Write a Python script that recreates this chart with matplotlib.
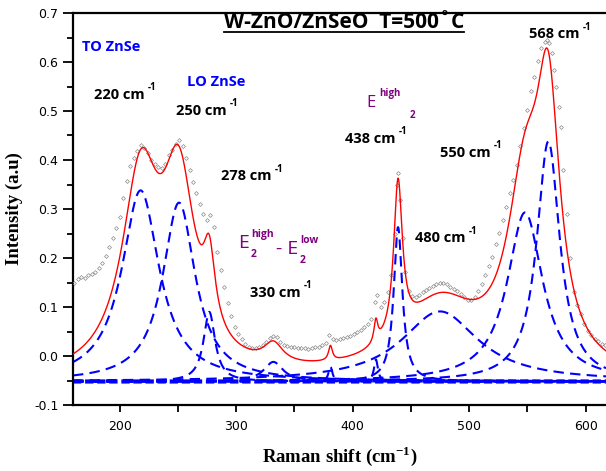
import numpy as np
import matplotlib
matplotlib.use("Agg")
import matplotlib.pyplot as plt
from matplotlib.lines import Line2D
from matplotlib.ticker import MultipleLocator

# measured spectrum (gray points), Raman shift in cm^-1
shift = [161, 164, 167, 170, 173, 176, 179, 182, 185, 188, 191, 194, 197, 200,
         203, 206, 209, 212, 215, 218, 221, 224, 227, 230, 233, 236, 239, 242,
         245, 248, 251, 254, 257, 260, 263, 266, 269, 272, 275, 278, 281, 284,
         287, 290, 293, 296, 299, 302, 305, 308, 311, 314, 317, 320, 323, 326,
         329, 332, 335, 338, 341, 344, 347, 350, 353, 356, 359, 362, 365, 368,
         371, 374, 377, 380, 383, 386, 389, 392, 395, 398, 401, 404, 407, 410,
         413, 416, 419, 421, 424, 427, 430, 433, 436, 438, 439, 441, 443, 445,
         448, 451, 454, 457, 460, 463, 466, 469, 472, 475, 478, 481, 484, 487,
         490, 493, 496, 499, 502, 505, 508, 511, 514, 517, 520, 523, 526, 529,
         532, 535, 538, 541, 544, 547, 550, 553, 556, 559, 562, 565, 567, 569,
         571, 573, 575, 577, 579, 581, 584, 587, 590, 593, 596, 599, 602, 605,
         608, 611, 614, 617]
intensity = [0.150, 0.158, 0.162, 0.160, 0.165, 0.168, 0.172, 0.180, 0.190,
             0.205, 0.222, 0.240, 0.262, 0.284, 0.322, 0.358, 0.388, 0.405,
             0.418, 0.430, 0.424, 0.415, 0.400, 0.392, 0.386, 0.384, 0.392,
             0.410, 0.420, 0.432, 0.440, 0.428, 0.405, 0.380, 0.355, 0.332,
             0.310, 0.290, 0.278, 0.288, 0.264, 0.212, 0.175, 0.140, 0.108,
             0.082, 0.060, 0.045, 0.034, 0.024, 0.018, 0.016, 0.016, 0.018,
             0.022, 0.028, 0.036, 0.040, 0.038, 0.028, 0.022, 0.020, 0.018,
             0.018, 0.017, 0.016, 0.016, 0.015, 0.016, 0.018, 0.019, 0.022,
             0.027, 0.042, 0.034, 0.033, 0.035, 0.037, 0.039, 0.041, 0.044,
             0.048, 0.053, 0.060, 0.066, 0.076, 0.110, 0.125, 0.100, 0.110,
             0.130, 0.165, 0.250, 0.350, 0.374, 0.318, 0.240, 0.172, 0.132,
             0.122, 0.120, 0.125, 0.131, 0.135, 0.139, 0.142, 0.146, 0.148,
             0.149, 0.146, 0.141, 0.136, 0.132, 0.127, 0.120, 0.115, 0.114,
             0.120, 0.132, 0.146, 0.165, 0.184, 0.203, 0.228, 0.252, 0.278,
             0.305, 0.332, 0.360, 0.390, 0.428, 0.465, 0.502, 0.540, 0.570,
             0.603, 0.628, 0.640, 0.645, 0.638, 0.618, 0.584, 0.550, 0.509,
             0.468, 0.380, 0.290, 0.200, 0.130, 0.105, 0.085, 0.066, 0.052,
             0.042, 0.035, 0.030, 0.025, 0.022]

# Lorentzian fit components
peak_center = [218, 251, 277, 332, 381, 420, 439, 475, 548, 568]
peak_height = [0.39, 0.365, 0.142, 0.04, 0.03, 0.045, 0.315, 0.143, 0.345, 0.49]
peak_hwhm = [19.5, 17, 6, 10, 2, 2, 4.5, 40, 18.5, 12]
baseline = -0.052


def lorentz(x, c, h, w):
    return h / (1 + ((x - c) / w) ** 2)


plt.rcParams['font.family'] = 'DejaVu Sans'
plt.rcParams['mathtext.fontset'] = 'custom'
plt.rcParams['mathtext.rm'] = 'Liberation Serif:bold'
plt.rcParams['mathtext.bf'] = 'Liberation Serif:bold'
fig = plt.figure(figsize=(6.06, 4.71), dpi=100)
ax = fig.add_axes([73 / 606, 1 - 405 / 471, 1 - 73 / 606, (405 - 13) / 471])

xs = np.linspace(160, 618, 2000)
total = np.full_like(xs, baseline)
for c, h, w in zip(peak_center, peak_height, peak_hwhm):
    comp = lorentz(xs, c, h, w)
    total += comp
    ax.plot(xs, baseline + comp, color='#0000ff', lw=1.5,
            linestyle=(0, (5, 3)), zorder=2)
ax.plot(xs, np.full_like(xs, baseline), color='#0000ff', lw=3,
        linestyle=(0, (2, 0.9)), zorder=2)

ax.plot(shift, intensity, linestyle='none', marker='D', markersize=2.0,
        mfc='none', mec='#8a8a8a', mew=0.5, zorder=3)
ax.plot(xs, total, color='#ff0000', lw=1.0, zorder=4)

ax.set_xlim(160, 617.5)
ax.set_ylim(-0.1, 0.7)
ax.xaxis.set_major_locator(MultipleLocator(100))
ax.xaxis.set_minor_locator(MultipleLocator(50))
ax.yaxis.set_major_locator(MultipleLocator(0.1))
ax.yaxis.set_minor_locator(MultipleLocator(0.05))
ax.yaxis.set_major_formatter(plt.FuncFormatter(lambda v, p: f"{v:.1f}"))
ax.tick_params(which='both', direction='out', width=1.3, labelsize=9,
               colors='black', top=False, right=False)
ax.tick_params(axis='y', which='major', length=7)
ax.tick_params(axis='y', which='minor', length=4)
ax.tick_params(axis='x', which='both', length=5, pad=6)
for s in ['left', 'bottom', 'top']:
    ax.spines[s].set_linewidth(1.6)
ax.spines['right'].set_visible(False)

ax.set_xlabel('Raman shift (cm$^{-1}$)', family='Liberation Serif',
              fontweight='bold', fontsize=13.5, labelpad=8)
ax.set_ylabel('Intensity (a.u)', family='Liberation Serif', fontweight='bold',
              fontsize=13.5, labelpad=8)

LF = 'Open Sans'


def px(x, y):
    # pixel position in the image -> data coordinates
    return 200 + (x - 119.5) / 1.166, (356 - y) / 490


def peak_label(x, y, main, color='black', sup='-1'):
    t = ax.text(*px(x, y), main, color=color, fontsize=10.5, fontweight='bold',
                family=LF, ha='left', va='baseline', zorder=6)
    if sup:
        ax.annotate(sup, xy=(1, 1), xycoords=t, xytext=(2.5, 0),
                    textcoords='offset points', fontsize=7, fontweight='bold',
                    family=LF, color=color, va='center', ha='left')
    return t


peak_label(82, 51, 'TO ZnSe', color='#0000ff', sup=None)
peak_label(94, 99, '220 cm')
peak_label(187, 86, 'LO ZnSe', color='#0000ff', sup=None)
peak_label(176, 115, '250 cm')
peak_label(221, 180, '278 cm')
peak_label(250, 297, '330 cm')
peak_label(345, 143, '438 cm')
peak_label(415, 242, '480 cm')
peak_label(440, 157, '550 cm')
peak_label(529, 38, '568 cm')

purple = '#800080'


def e_label(x, y, sub, sup, prefix=''):
    t = ax.text(*px(x, y), prefix + 'E', color=purple, fontsize=14,
                family=LF, ha='left', va='baseline', zorder=6)
    ax.annotate(sub, xy=(1, 0), xycoords=t, xytext=(1, -2),
                textcoords='offset points', fontsize=7.5, fontweight='bold',
                family=LF, color=purple, va='center', ha='left')
    s = ax.annotate(sup, xy=(1, 1), xycoords=t, xytext=(2, 0),
                    textcoords='offset points', fontsize=7.5, fontweight='bold',
                    family=LF, color=purple, va='center', ha='left')
    return s


first = e_label(238, 248, '2', 'high')
t2 = ax.annotate('- E', xy=(1, 0), xycoords=first, xytext=(1, -10.5),
                 textcoords='offset points', fontsize=14, family=LF,
                 color=purple, va='baseline', ha='left')
ax.annotate('2', xy=(1, 0), xycoords=t2, xytext=(1, -2),
            textcoords='offset points', fontsize=7.5, fontweight='bold',
            family=LF, color=purple, va='center', ha='left')
ax.annotate('low', xy=(1, 1), xycoords=t2, xytext=(2, 0),
            textcoords='offset points', fontsize=7.5, fontweight='bold',
            family=LF, color=purple, va='center', ha='left')

tE = ax.text(*px(366, 107), 'E', color=purple, fontsize=12, family=LF,
             ha='left', va='baseline', zorder=6)
ax.annotate('high', xy=(1, 1), xycoords=tE, xytext=(3, 1),
            textcoords='offset points', fontsize=7, fontweight='bold',
            family=LF, color=purple, va='center', ha='left')
ax.annotate('2', xy=(1, 0), xycoords=tE, xytext=(25, -3),
            textcoords='offset points', fontsize=7, fontweight='bold',
            family=LF, color=purple, va='center', ha='left')

title = fig.text(344 / 606, 1 - 23 / 471, 'W-ZnO/ZnSeO  T=500\u02daC',
                 ha='center', va='center', fontsize=15, fontweight='bold',
                 family=LF)
fig.canvas.draw()
bb = title.get_window_extent().transformed(fig.transFigure.inverted())
fig.add_artist(Line2D([bb.x0, bb.x1], [bb.y0 + 0.004, bb.y0 + 0.004],
                      transform=fig.transFigure, color='black', lw=1.3))

fig.savefig('out.png', dpi=100)
